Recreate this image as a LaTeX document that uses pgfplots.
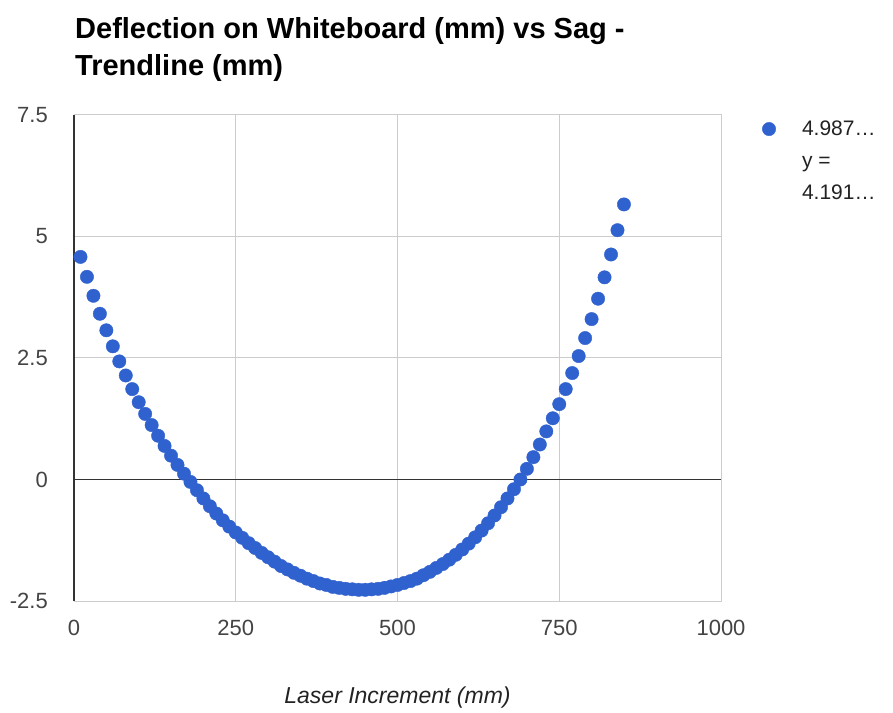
\documentclass[border=0pt]{standalone}
\usepackage{fontspec}
\setmainfont{Liberation Sans}
\usepackage{pgfplots}
\usepackage{pgfplotstable}
\pgfplotsset{compat=1.18}
\definecolor{gblue}{HTML}{3062CF}
\definecolor{gridc}{HTML}{CCCCCC}
\definecolor{txtc}{HTML}{222222}
\definecolor{tickc}{HTML}{444444}
\definecolor{axisc}{HTML}{333333}
\pgfplotstableread{
x y
10 4.58
20 4.17
30 3.78
40 3.41
50 3.07
60 2.74
70 2.43
80 2.14
90 1.86
100 1.59
110 1.35
120 1.12
130 0.90
140 0.69
150 0.49
160 0.30
170 0.12
180 -0.05
190 -0.22
200 -0.39
210 -0.55
220 -0.70
230 -0.84
240 -0.97
250 -1.09
260 -1.20
270 -1.31
280 -1.41
290 -1.51
300 -1.60
310 -1.69
320 -1.78
330 -1.85
340 -1.92
350 -1.98
360 -2.04
370 -2.09
380 -2.14
390 -2.17
400 -2.21
410 -2.23
420 -2.25
430 -2.26
440 -2.27
450 -2.27
460 -2.26
470 -2.25
480 -2.23
490 -2.20
500 -2.17
510 -2.13
520 -2.09
530 -2.04
540 -1.97
550 -1.90
560 -1.82
570 -1.74
580 -1.65
590 -1.55
600 -1.44
610 -1.32
620 -1.19
630 -1.05
640 -0.90
650 -0.74
660 -0.57
670 -0.39
680 -0.20
690 0.00
700 0.22
710 0.46
720 0.72
730 0.99
740 1.26
750 1.55
760 1.86
770 2.19
780 2.54
790 2.91
800 3.30
810 3.72
820 4.16
830 4.63
840 5.13
850 5.66
}\sagdata
\begin{document}
\begin{tikzpicture}
\path[use as bounding box] (0bp,0bp) rectangle (893bp,713bp);
\node[anchor=base west, inner sep=0pt, font=\fontsize{29bp}{35bp}\bfseries\selectfont] at (75bp,674bp) {Deflection on Whiteboard (mm) vs Sag -};
\node[anchor=base west, inner sep=0pt, font=\fontsize{29bp}{35bp}\bfseries\selectfont] at (75bp,637bp) {Trendline (mm)};
\begin{axis}[
  at={(74bp,112bp)}, anchor=south west,
  scale only axis, width=647bp, height=486bp,
  xmin=0, xmax=1000, ymin=-2.5, ymax=7.5,
  xtick={0,250,500,750,1000}, xticklabels={0,250,500,750,1000},
  ytick={-2.5,0,2.5,5,7.5}, yticklabels={-2.5,0,2.5,5,7.5},
  major tick length=0pt,
  grid=major, grid style={gridc, line width=1bp},
  axis line style={gridc, line width=1bp},
  ticklabel style={font=\fontsize{22bp}{26bp}\selectfont, text=tickc},
  xticklabel style={inner sep=0pt, anchor=north}, xticklabel shift=19bp,
  yticklabel style={inner sep=0pt, anchor=east}, yticklabel shift=26bp,
  xlabel={\itshape Laser Increment (mm)},
  xlabel style={at={(axis description cs:0.5,0)}, anchor=base, yshift=-102bp, inner sep=0pt, font=\fontsize{23bp}{28bp}\selectfont, text=txtc},
  legend style={at={(1.0634,0.9918)}, anchor=north west, draw=none, fill=none, inner sep=0pt, outer sep=0pt, row sep=12bp, font=\fontsize{21bp}{32bp}\selectfont, text=txtc, cells={anchor=west, align=left}},
  legend image code/.code={\draw[#1] plot coordinates {(7bp,0bp)}; \path[draw=none, fill=none] (0bp,-7bp) rectangle (38bp,7bp);},
  clip=false,
]
\draw[axisc, line width=1.3bp] (axis cs:0,0) -- (axis cs:1000,0);
\draw[axisc, line width=1.3bp] (axis cs:0,-2.5) -- (axis cs:0,7.5);
\addplot[only marks, mark=*, mark size=6.7bp, color=gblue, mark options={draw=gblue, fill=gblue}] table[x=x, y=y] {\sagdata};
\addlegendentry{4.987…}
\addlegendimage{empty legend}
\addlegendentry{\vphantom{4}y =\\4.191…}
\end{axis}
\end{tikzpicture}
\end{document}
